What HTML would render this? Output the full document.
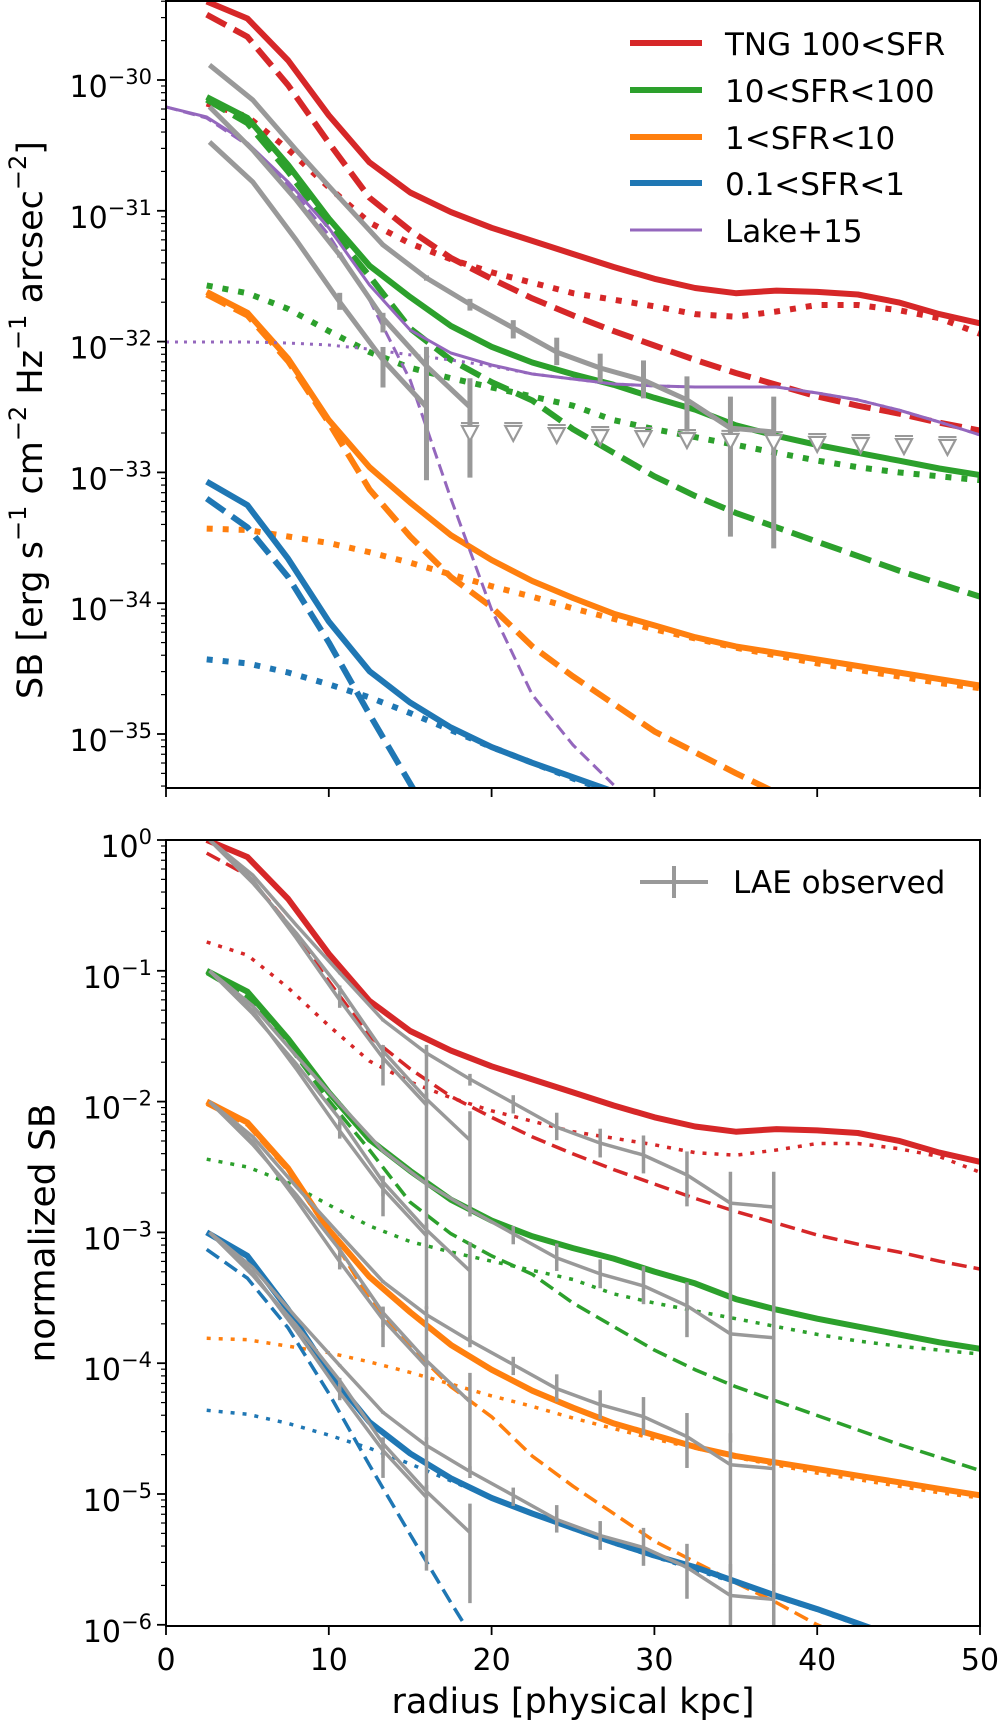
<!DOCTYPE html>
<html><head><meta charset="utf-8"><style>
html,body{margin:0;padding:0;background:#fff;}
svg{display:block;font-family:"DejaVu Sans","Liberation Sans",sans-serif;}
</style></head><body>
<svg id="fig" width="1000" height="1723" viewBox="0 0 1000 1723" xmlns="http://www.w3.org/2000/svg">
<defs>
<clipPath id="clipTop"><rect x="166" y="1" width="814" height="787"/></clipPath>
<clipPath id="clipBot"><rect x="166" y="840" width="814" height="786"/></clipPath>
</defs>
<g id="topPlot" clip-path="url(#clipTop)"></g>
<g id="botPlot" clip-path="url(#clipBot)"></g>
<g id="axes"></g>
<rect x="166" y="1" width="814" height="787" fill="none" stroke="#000" stroke-width="2"/>
<rect x="166" y="840" width="814" height="786" fill="none" stroke="#000" stroke-width="2"/>
<text transform="translate(31,420) rotate(-90)" text-anchor="middle" dominant-baseline="central" font-size="35">SB [erg s<tspan dy="-13" font-size="24">−1</tspan><tspan dy="13"> cm</tspan><tspan dy="-13" font-size="24">−2</tspan><tspan dy="13"> Hz</tspan><tspan dy="-13" font-size="24">−1</tspan><tspan dy="13"> arcsec</tspan><tspan dy="-13" font-size="24">−2</tspan><tspan dy="13">]</tspan></text>
<text transform="translate(43,1233) rotate(-90)" text-anchor="middle" dominant-baseline="central" font-size="36">normalized SB</text>
<text x="573" y="1713" text-anchor="middle" font-size="35">radius [physical kpc]</text>
<g>
<line x1="630" y1="43" x2="702" y2="43" stroke="#d62728" stroke-width="6"/>
<text x="725" y="55" font-size="31">TNG 100&lt;SFR</text>
<line x1="630" y1="90" x2="702" y2="90" stroke="#2ca02c" stroke-width="6"/>
<text x="725" y="102" font-size="31">10&lt;SFR&lt;100</text>
<line x1="630" y1="137" x2="702" y2="137" stroke="#ff7f0e" stroke-width="6"/>
<text x="725" y="149" font-size="31">1&lt;SFR&lt;10</text>
<line x1="630" y1="183" x2="702" y2="183" stroke="#1f77b4" stroke-width="6"/>
<text x="725" y="195" font-size="31">0.1&lt;SFR&lt;1</text>
<line x1="630" y1="230" x2="702" y2="230" stroke="#9467bd" stroke-width="3"/>
<text x="725" y="242" font-size="31">Lake+15</text>
</g>
<g>
<line x1="640" y1="882" x2="708" y2="882" stroke="#999" stroke-width="4"/>
<line x1="674" y1="866" x2="674" y2="898" stroke="#999" stroke-width="4"/>
<text x="733" y="893" font-size="31">LAE observed</text>
</g>
</svg>
<script>
// ---- data (log10 SB, top panel absolute) ----
const modelX = [2.5,5,7.5,10,12.5,15,17.5,20,22.5,25,27.5,30,32.5,35,37.5,40,42.5,45,47.5,50];
const redSolid = [-29.40,-29.53,-29.85,-30.27,-30.63,-30.86,-31.01,-31.13,-31.23,-31.33,-31.43,-31.52,-31.59,-31.63,-31.61,-31.62,-31.64,-31.70,-31.79,-31.86];
const redDashed = [-29.50,-29.67,-30.04,-30.48,-30.90,-31.15,-31.36,-31.52,-31.67,-31.80,-31.92,-32.03,-32.14,-32.24,-32.33,-32.42,-32.49,-32.55,-32.62,-32.68];
const redDotted = [-30.18,-30.28,-30.53,-30.82,-31.09,-31.25,-31.37,-31.47,-31.55,-31.63,-31.68,-31.73,-31.79,-31.81,-31.77,-31.72,-31.72,-31.76,-31.82,-31.94];
const greenSolid = [-30.13,-30.29,-30.65,-31.06,-31.42,-31.66,-31.88,-32.04,-32.16,-32.25,-32.33,-32.43,-32.52,-32.64,-32.72,-32.79,-32.85,-32.91,-32.97,-33.02];
const greenDashed = [-30.15,-30.33,-30.70,-31.12,-31.50,-31.90,-32.14,-32.31,-32.45,-32.67,-32.85,-33.03,-33.18,-33.31,-33.42,-33.53,-33.64,-33.75,-33.85,-33.95];
const greenDotted = [-31.57,-31.63,-31.75,-31.92,-32.08,-32.20,-32.28,-32.35,-32.42,-32.49,-32.60,-32.67,-32.73,-32.79,-32.85,-32.91,-32.96,-33.00,-33.03,-33.06];
const orangeSolid = [-31.62,-31.78,-32.13,-32.60,-32.96,-33.23,-33.48,-33.67,-33.83,-33.96,-34.08,-34.17,-34.26,-34.33,-34.38,-34.43,-34.48,-34.53,-34.58,-34.63];
const orangeDashed = [-31.64,-31.80,-32.15,-32.62,-33.13,-33.49,-33.80,-34.03,-34.33,-34.56,-34.77,-34.98,-35.14,-35.30,-35.45,-35.62,-35.75,-35.90];
const orangeDotted = [-33.43,-33.44,-33.49,-33.54,-33.61,-33.69,-33.78,-33.87,-33.95,-34.04,-34.12,-34.20,-34.27,-34.34,-34.40,-34.46,-34.51,-34.56,-34.61,-34.65];
const blueSolid = [-33.07,-33.25,-33.66,-34.14,-34.52,-34.76,-34.95,-35.10,-35.22,-35.33,-35.44,-35.54,-35.63,-35.74,-35.85,-35.95,-36.06,-36.17,-36.28,-36.39];
const blueDashed = [-33.20,-33.42,-33.80,-34.30,-34.85,-35.38,-35.90,-36.40];
const blueDotted = [-34.43,-34.46,-34.53,-34.62,-34.72,-34.84,-34.97,-35.10,-35.22,-35.34,-35.45,-35.55,-35.65,-35.75,-35.86,-35.96,-36.07,-36.18,-36.29,-36.40];
const normOffsets = [0,-1,-2,-3];

const lakeX = [0,2.5,5,7.5,10,12.5,15,17.5,20,22.5,25,27.5,30,32.5,35,37.5,40,42.5,45,47.5,50];
const lakeSolid = [-30.206,-30.283,-30.482,-30.780,-31.131,-31.567,-31.911,-32.087,-32.179,-32.248,-32.286,-32.324,-32.339,-32.347,-32.347,-32.347,-32.393,-32.446,-32.523,-32.615,-32.714];
const lakeDashed = [-30.206,-30.291,-30.497,-30.803,-31.185,-31.682,-32.294,-33.200,-34.050,-34.700,-35.084,-35.390];
const lakeDotted = [-32.003,-32.003,-32.003,-32.011,-32.026,-32.057,-32.102,-32.141,-32.187,-32.248,-32.286,-32.324,-32.339,-32.347,-32.347,-32.347,-32.393,-32.446,-32.523,-32.615,-32.714];

const obsX = [2.67,5.33,8,10.67,13.33,16,18.67,21.33,24,26.67,29.33,32,34.67,37.33];
const obs1 = [-29.885,-30.153,-30.535,-30.902,-31.261,-31.514,-31.713,-31.896,-32.080,-32.202,-32.294,-32.446,-32.661,-32.691];
const obs1Up = [0,0,0,0.01,0.01,0.02,0.04,0.06,0.11,0.11,0.15,0.18,0.24,0.27];
const obs1Dn = [0,0,0,0.01,0.01,0.02,0.05,0.08,0.10,0.11,0.14,0.24,0.83,0.89];
const obs2 = [-30.206,-30.535,-30.917,-31.338,-31.820,-32.187,-32.500];
const obs2Up = [0,0,0,0.02,0.04,0.05,0.22];
const obs2Dn = [0,0,0,0.02,0.11,0.05,0.54];
const obs3 = [-30.474,-30.780,-31.223,-31.697,-32.141,-32.500];
const obs3Up = [0,0,0,0.07,0.10,0.46];
const obs3Dn = [0,0,0,0.06,0.21,0.56];
const uplimX = [18.67,21.33,24,26.67,29.33,32,34.67,37.33,40,42.67,45.33,48];
const uplimY = [-32.622,-32.622,-32.638,-32.653,-32.661,-32.676,-32.683,-32.691,-32.706,-32.714,-32.722,-32.729];

const topTicks = [-30,-31,-32,-33,-34,-35];
const botTicks = [0,-1,-2,-3,-4,-5,-6];
const xTicks = [0,10,20,30,40,50];

// ---- scales ----
const NS = 'http://www.w3.org/2000/svg';
function sx(x){ return 166 + 16.28*x; }
function syT(l){ return 80 + (-30 - l)*130.8; }
function syB(l){ return 840 - l*130.8; }
function mk(tag, parent){ const e = document.createElementNS(NS, tag); parent.appendChild(e); return e; }

function drawLine(parent, xs, ys, sy, color, width, dash, name){
  let d = '';
  for (let i = 0; i < ys.length; i++) d += (i ? 'L' : 'M') + sx(xs[i]).toFixed(1) + ',' + sy(ys[i]).toFixed(1);
  const p = mk('path', parent);
  p.setAttribute('d', d);
  p.setAttribute('fill', 'none');
  p.setAttribute('stroke', color);
  p.setAttribute('stroke-width', width);
  p.setAttribute('stroke-linejoin', 'round');
  if (dash) p.setAttribute('stroke-dasharray', dash);
  
  
  return p;
}
function shift(arr, d){ return arr.map(v => v + d); }

const topG = document.getElementById('topPlot');
const botG = document.getElementById('botPlot');
const axG = document.getElementById('axes');

const groups = [
  ['red','#d62728',redSolid,redDashed,redDotted],
  ['green','#2ca02c',greenSolid,greenDashed,greenDotted],
  ['orange','#ff7f0e',orangeSolid,orangeDashed,orangeDotted],
  ['blue','#1f77b4',blueSolid,blueDashed,blueDotted]
];
groups.forEach(function(g, k){
  const anchor = g[2][0];
  const off = normOffsets[k] - anchor;
  drawLine(topG, modelX, g[4], syT, g[1], 6, '6 10', g[0] + '-dotted-top');
  drawLine(topG, modelX, g[3], syT, g[1], 6, '22 9', g[0] + '-dashed-top');
  drawLine(topG, modelX, g[2], syT, g[1], 6, null, g[0] + '-solid-top');
  drawLine(botG, modelX, shift(g[4], off), syB, g[1], 3.5, '4 8', g[0] + '-dotted-normalized');
  drawLine(botG, modelX, shift(g[3], off), syB, g[1], 3.5, '15 7', g[0] + '-dashed-normalized');
  drawLine(botG, modelX, shift(g[2], off), syB, g[1], 6, null, g[0] + '-solid-normalized');
});

drawLine(topG, lakeX, lakeDotted, syT, '#9467bd', 3, '3 6', 'lake-dotted');
drawLine(topG, lakeX, lakeDashed, syT, '#9467bd', 3, '12 6', 'lake-dashed');
drawLine(topG, lakeX, lakeSolid, syT, '#9467bd', 3, null, 'lake-solid');

function drawObs(parent, sy, vals, up, dn, shiftBy, lw, name){
  const v = shift(vals, shiftBy);
  drawLine(parent, obsX, v, sy, '#999', lw, null, name + '-line');
  for (let i = 0; i < v.length; i++){
    if (up[i] + dn[i] <= 0) continue;
    const b = mk('line', parent);
    b.setAttribute('x1', sx(obsX[i])); b.setAttribute('x2', sx(obsX[i]));
    b.setAttribute('y1', sy(v[i] + up[i])); b.setAttribute('y2', sy(v[i] - dn[i]));
    b.setAttribute('stroke', '#999'); b.setAttribute('stroke-width', lw);
    
    
  }
}
drawObs(topG, syT, obs1, obs1Up, obs1Dn, 0, 5, 'lae-obs-1');
drawObs(topG, syT, obs2, obs2Up, obs2Dn, 0, 5, 'lae-obs-2');
drawObs(topG, syT, obs3, obs3Up, obs3Dn, 0, 5, 'lae-obs-3');
normOffsets.forEach(function(o){
  drawObs(botG, syB, obs1, obs1Up, obs1Dn, o - obs1[0], 3.5, 'lae-obs-1-normalized');
  drawObs(botG, syB, obs2, obs2Up, obs2Dn, o - obs2[0], 3.5, 'lae-obs-2-normalized');
  drawObs(botG, syB, obs3, obs3Up, obs3Dn, o - obs3[0], 3.5, 'lae-obs-3-normalized');
});

for (let i = 0; i < uplimX.length; i++){
  const x = sx(uplimX[i]), y = syT(uplimY[i]);
  const c = mk('line', topG);
  c.setAttribute('x1', x - 9); c.setAttribute('x2', x + 9);
  c.setAttribute('y1', y); c.setAttribute('y2', y);
  c.setAttribute('stroke', '#999'); c.setAttribute('stroke-width', 2);
  
  
  const t = mk('path', topG);
  t.setAttribute('d', 'M' + (x - 8) + ',' + (y + 3) + 'L' + (x + 8) + ',' + (y + 3) + 'L' + x + ',' + (y + 18) + 'Z');
  t.setAttribute('fill', '#fff'); t.setAttribute('stroke', '#999'); t.setAttribute('stroke-width', 2.2);
  
  
}

// ---- axes ----
function tick(x1, y1, x2, y2, w){
  const l = mk('line', axG);
  l.setAttribute('x1', x1); l.setAttribute('y1', y1); l.setAttribute('x2', x2); l.setAttribute('y2', y2);
  l.setAttribute('stroke', '#000'); l.setAttribute('stroke-width', w);
  
  
}
function yAxis(ticks, sy, yMin, yMax, nameBase){
  ticks.forEach(function(t){
    const y = sy(t);
    tick(157, y, 166, y, 1.8);
    const tx = mk('text', axG);
    tx.setAttribute('x', 152); tx.setAttribute('y', y + 17);
    tx.setAttribute('text-anchor', 'end'); tx.setAttribute('font-size', '30');
    
    
    const a = document.createElementNS(NS, 'tspan'); a.textContent = '10'; tx.appendChild(a);
    const b = document.createElementNS(NS, 'tspan'); b.setAttribute('dy', '-13'); b.setAttribute('font-size', '21');
    b.textContent = (t === 0 ? '0' : '−' + Math.abs(t)); tx.appendChild(b);
  });
  for (let d = Math.floor(yMin); d <= Math.ceil(yMax); d++){
    for (let m = 2; m <= 9; m++){
      const l = d + Math.log10(m);
      if (l <= yMin || l >= yMax) continue;
      tick(161, sy(l), 166, sy(l), 1.2);
    }
  }
}
yAxis(topTicks, syT, -35.413, -29.396, 'top-y');
yAxis(botTicks, syB, -6.0, 0.0, 'bottom-y');
xTicks.forEach(function(t){
  const x = sx(t);
  tick(x, 788, x, 797, 1.8);
  tick(x, 1626, x, 1635, 1.8);
  const tx = mk('text', axG);
  tx.setAttribute('x', x); tx.setAttribute('y', 1670);
  tx.setAttribute('text-anchor', 'middle'); tx.setAttribute('font-size', '30');
  
  
  tx.textContent = String(t);
});
</script>
</body></html>
